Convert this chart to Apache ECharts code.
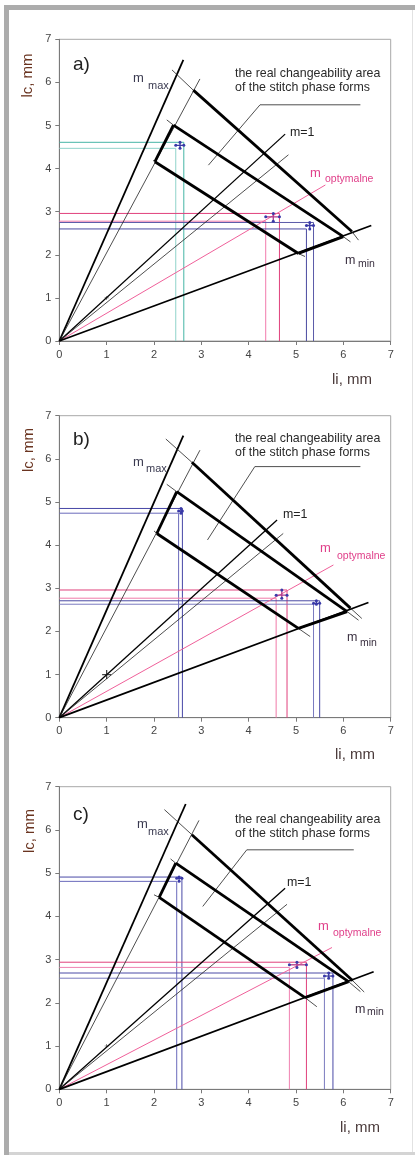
<!DOCTYPE html>
<html>
<head>
<meta charset="utf-8">
<script src="https://cdn.jsdelivr.net/npm/echarts@6/dist/echarts.min.js"></script>
<style>
html,body{margin:0;padding:0;background:#fff;}
#c{width:415px;height:1155px;}
</style>
</head>
<body>
<div id="c"></div>
<script>
// ---- data (per panel a, b, c) ----
const panelNames = ['a)', 'b)', 'c)'];
const xTicks = [0, 1, 2, 3, 4, 5, 6, 7];
const yTicks = [0, 1, 2, 3, 4, 5, 6, 7];
// end points of rays from origin
const mMaxTop      = [[2.62, 6.52], [2.62, 6.54], [2.67, 6.60]];
const steepThinTop = [[2.97, 6.08], [2.97, 6.20], [2.95, 6.22]];
const m1Top        = [[4.77, 4.80], [4.60, 4.58], [4.77, 4.65]];
const lowThinTop   = [[4.84, 4.32], [4.73, 4.27], [4.81, 4.28]];
const optTop       = [[5.62, 3.62], [5.79, 3.54], [5.76, 3.28]];
const mMinTop      = [[6.59, 2.68], [6.53, 2.67], [6.64, 2.72]];
// boundary lines: thin start, thick start, thick end, thin end
const outerEdge = [
  [[2.38, 6.29], [2.83, 5.82], [6.18, 2.54], [6.32, 2.34]],
  [[2.25, 6.46], [2.80, 5.92], [6.15, 2.54], [6.39, 2.30]],
  [[2.22, 6.47], [2.80, 5.89], [6.20, 2.51], [6.44, 2.25]]
];
const middleEdge = [
  [[2.27, 5.13], [2.41, 5.01], [6.00, 2.42], [6.15, 2.30]],
  [[2.27, 5.41], [2.48, 5.24], [6.08, 2.46], [6.32, 2.26]],
  [[2.35, 5.33], [2.46, 5.23], [6.11, 2.49], [6.36, 2.26]]
];
const innerEdge = [
  [[1.98, 4.19], [2.02, 4.16], [5.05, 2.03], [5.19, 1.96]],
  [[2.00, 4.33], [2.06, 4.27], [5.05, 2.07], [5.30, 1.88]],
  [[2.00, 4.50], [2.11, 4.44], [5.19, 2.12], [5.44, 1.91]]
];
const leaderLine = [
  [[6.36, 5.48], [4.24, 5.48], [3.15, 4.08]],
  [[6.36, 5.82], [4.13, 5.82], [3.13, 4.12]],
  [[6.22, 5.54], [3.96, 5.54], [3.03, 4.23]]
];
const unitPoint = [1, 1];
// measured points (3 per panel)
const ptX   = [[2.55, 4.52, 5.29], [2.57, 4.70, 5.43], [2.53, 5.02, 5.69]];
const ptY   = [[4.54, 2.88, 2.68], [4.79, 2.84, 2.65], [4.88, 2.88, 2.62]];
const ptXLo = [[2.46, 4.36, 5.22], [2.52, 4.58, 5.37], [2.48, 4.86, 5.60]];
const ptXHi = [[2.63, 4.65, 5.37], [2.60, 4.81, 5.50], [2.59, 5.22, 5.78]];
const ptYLo = [[4.47, 2.78, 2.60], [4.74, 2.77, 2.63], [4.81, 2.82, 2.57]];
const ptYHi = [[4.61, 2.96, 2.75], [4.85, 2.96, 2.71], [4.91, 2.94, 2.69]];
const hiColors   = [['#45b5a5', '#e0407c', '#5a5aa8'], ['#4646a6', '#e0407c', '#4a4aa4'], ['#4a4aa6', '#e0407c', '#4a4aa6']];
const loColors   = [['#8fd3ca', '#f27aac', '#4a4aa0'], ['#6a6abb', '#f07aa8', '#7a7abf'], ['#6a6abb', '#f080b0', '#7a7abf']];
const markColors = [['#3a3aa0', '#b03a8a', '#3a3aa0'], ['#3a3aa0', '#b03a8a', '#3a3aa0'], ['#3a3aa0', '#b03a8a', '#3a3aa0']];

// ---- layout ----
const gridTops = [39.3, 415.7, 786.7];
const gridHeights = [301.7, 302, 302.6];
const FONT = '"Liberation Sans", Arial, Helvetica, sans-serif';

const chart = echarts.init(document.getElementById('c'), null, {renderer: 'canvas'});

const grids = [], xAxes = [], yAxes = [], series = [];
function axisCommon() {
  return {
    type: 'value', min: 0, max: 7, interval: 1,
    axisLine: {show: true, onZero: false, lineStyle: {color: '#7a7a7a', width: 1}},
    axisTick: {show: true, length: 4, lineStyle: {color: '#7a7a7a'}},
    axisLabel: {color: '#444', fontSize: 11, fontFamily: FONT, margin: 8},
    splitLine: {show: false}
  };
}
function line(i, pts, width, color, z) {
  return {type: 'line', xAxisIndex: i, yAxisIndex: i, data: pts, symbol: 'none',
    silent: true, animation: false, clip: false, z: z || 3,
    lineStyle: {width: width, color: color, cap: 'butt', join: 'miter'}};
}
function dotted(i, pts, width, color, z) {
  return {type: 'line', xAxisIndex: i, yAxisIndex: i, data: pts, symbol: 'circle', symbolSize: 3,
    showSymbol: true, silent: true, animation: false, clip: false, z: z || 6,
    itemStyle: {color: '#3a3aa8'},
    lineStyle: {width: width, color: color}};
}

for (let i = 0; i < 3; i++) {
  grids.push({left: 59.3, top: gridTops[i], width: 331.4, height: gridHeights[i],
    show: true, borderColor: '#a8a8a8', borderWidth: 1, backgroundColor: '#fff', containLabel: false});
  const xa = axisCommon(); xa.gridIndex = i;
  xa.axisLabel.formatter = v => String(xTicks[xTicks.indexOf(v)]);
  const ya = axisCommon(); ya.gridIndex = i;
  ya.axisLabel.formatter = v => String(yTicks[yTicks.indexOf(v)]);
  xAxes.push(xa); yAxes.push(ya);

  // drop lines for measured points
  for (let k = 0; k < 3; k++) {
    series.push(line(i, [[0, ptYLo[i][k]], [ptXLo[i][k], ptYLo[i][k]], [ptXLo[i][k], 0]], 1, loColors[i][k], 2));
    series.push(line(i, [[0, ptYHi[i][k]], [ptXHi[i][k], ptYHi[i][k]], [ptXHi[i][k], 0]], 1, hiColors[i][k], 2));
  }
  // rays from origin
  series.push(line(i, [[0, 0], optTop[i]], 1, '#f0609a', 3));
  series.push(line(i, [[0, 0], mMaxTop[i]], 1.8, '#000', 4));
  series.push(line(i, [[0, 0], steepThinTop[i]], 0.8, '#222', 4));
  series.push(line(i, [[0, 0], m1Top[i]], 1.3, '#000', 4));
  series.push(line(i, [[0, 0], lowThinTop[i]], 0.8, '#222', 4));
  series.push(line(i, [[0, 0], mMinTop[i]], 1.8, '#000', 4));
  // boundary lines
  [outerEdge[i], middleEdge[i], innerEdge[i]].forEach(e => {
    series.push(line(i, [e[0], e[1]], 0.8, '#222', 4));
    series.push(line(i, [e[1], e[2]], 2.8, '#000', 5));
    series.push(line(i, [e[2], e[3]], 0.8, '#222', 4));
  });
  // box sides
  series.push(line(i, [middleEdge[i][1], innerEdge[i][1]], 2.8, '#000', 5));
  series.push(line(i, [innerEdge[i][2], middleEdge[i][2]], 2.8, '#000', 5));
  // leader line of the description
  series.push(line(i, leaderLine[i], 0.8, '#222', 4));
  // unit point marker
  series.push({type: 'scatter', xAxisIndex: i, yAxisIndex: i, data: [unitPoint],
    symbol: 'path://M4.3,0H5.7V4.3H10V5.7H5.7V10H4.3V5.7H0V4.3H4.3Z',
    symbolSize: i === 1 ? 9 : 4, itemStyle: {color: '#111'}, silent: true, animation: false, z: 6});
  // measured points with error bars
  for (let k = 0; k < 3; k++) {
    const s1 = dotted(i, [[ptXLo[i][k], ptY[i][k]], [ptXHi[i][k], ptY[i][k]]], 1.3, markColors[i][k], 7);
    const s2 = dotted(i, [[ptX[i][k], ptYLo[i][k]], [ptX[i][k], ptYHi[i][k]]], 1.3, markColors[i][k], 7);
    series.push(s1, s2);
  }
}

function txt(x, y, text, size, color, opts) {
  const o = opts || {};
  return {type: 'text', x: x, y: y, rotation: o.rot || 0, silent: true, z: 100,
    style: {text: text, fill: color, font: size + 'px ' + FONT,
      align: o.align || 'left', verticalAlign: 'middle'}};
}

// label positions (pixels)
const lblPanel = [[73, 65], [73, 440], [73, 815]];
const lblMmax  = [[133, 78.5, 148, 85.5], [133, 462, 146, 468.5], [137, 824, 148, 831.7]];
const lblDesc  = [[235, 74, 88], [235, 438.3, 452.7], [235, 819.3, 833.3]];
const lblM1    = [[290, 133], [283, 515], [287, 882.7]];
const lblOpt   = [[310, 173, 325, 179.5], [320, 548.3, 337, 555.7], [318, 926.7, 333, 933.3]];
const lblMmin  = [[345, 260.5, 358, 264.5], [347, 638, 360, 643], [355, 1010, 367, 1012]];
const lblYName = [[27.5, 75.5], [29, 450], [30, 831]];
const lblXName = [[332, 380], [335, 755], [340, 1127.7]];

const graphics = [
  {type: 'rect', shape: {x: 4, y: 5, width: 5, height: 1150}, style: {fill: '#acacac'}, silent: true, z: 50},
  {type: 'rect', shape: {x: 4, y: 5, width: 411, height: 5}, style: {fill: '#acacac'}, silent: true, z: 50},
  {type: 'rect', shape: {x: 412, y: 10, width: 1, height: 1143}, style: {fill: '#e2e2e2'}, silent: true, z: 50},
  {type: 'rect', shape: {x: 9, y: 1152, width: 406, height: 3}, style: {fill: '#d4d4d4'}, silent: true, z: 50}
];
for (let i = 0; i < 3; i++) {
  graphics.push(txt(lblPanel[i][0], lblPanel[i][1], panelNames[i], 19, '#222'));
  graphics.push(txt(lblMmax[i][0], lblMmax[i][1], 'm', 13, '#3a3a50'));
  graphics.push(txt(lblMmax[i][2], lblMmax[i][3], 'max', 11, '#3a3a50'));
  graphics.push(txt(lblDesc[i][0], lblDesc[i][1], 'the real changeability area', 12.4, '#2a2a2a'));
  graphics.push(txt(lblDesc[i][0], lblDesc[i][2], 'of the stitch phase forms', 12.4, '#2a2a2a'));
  graphics.push(txt(lblM1[i][0], lblM1[i][1], 'm=1', 12.4, '#222'));
  graphics.push(txt(lblOpt[i][0], lblOpt[i][1], 'm', 13, '#e0408a'));
  graphics.push(txt(lblOpt[i][2], lblOpt[i][3], 'optymalne', 10.5, '#e0408a'));
  graphics.push(txt(lblMmin[i][0], lblMmin[i][1], 'm', 12.5, '#3a3040'));
  graphics.push(txt(lblMmin[i][2], lblMmin[i][3], 'min', 10.5, '#3a3040'));
  graphics.push(txt(lblYName[i][0], lblYName[i][1], 'lc, mm', 15, '#6a3420', {rot: Math.PI / 2, align: 'center'}));
  graphics.push(txt(lblXName[i][0], lblXName[i][1], 'li, mm', 15, '#4a3a3a'));
}

chart.setOption({
  animation: false,
  backgroundColor: '#fff',
  grid: grids,
  xAxis: xAxes,
  yAxis: yAxes,
  series: series,
  graphic: graphics
});
</script>
</body>
</html>
